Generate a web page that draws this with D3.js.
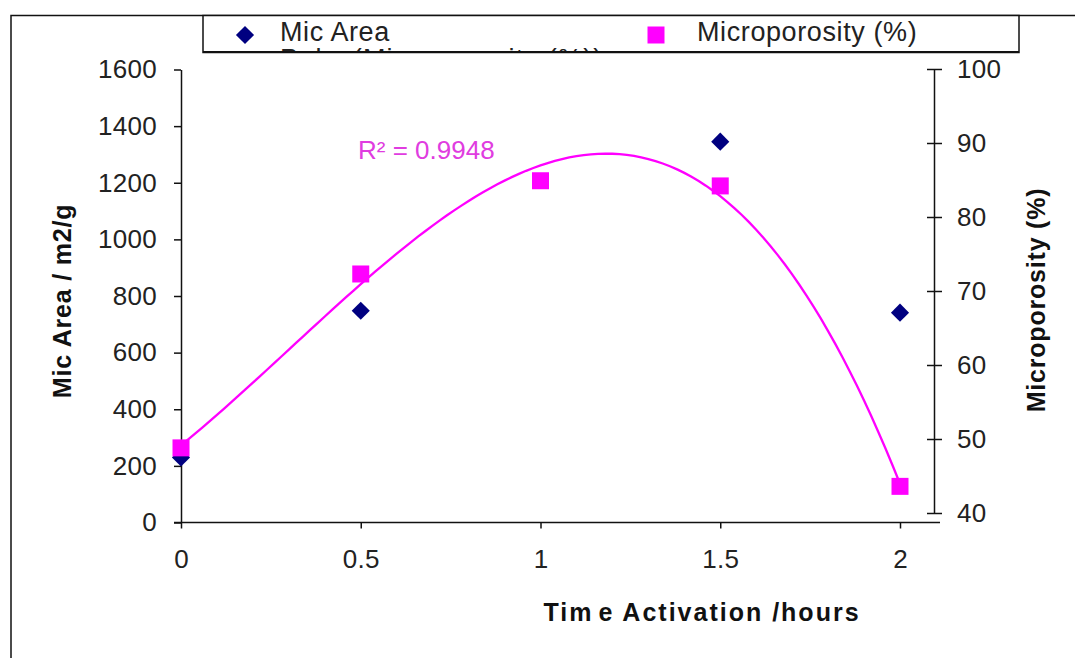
<!DOCTYPE html>
<html>
<head>
<meta charset="utf-8">
<script src="https://cdn.jsdelivr.net/npm/d3@7"></script>
<style>
  html, body { margin: 0; padding: 0; background: #fff; }
  svg { display: block; font-family: "Liberation Sans", Arial, sans-serif; }
</style>
</head>
<body>
<svg id="chart" width="1075" height="658"></svg>
<script>
// Activation time (hours)
const hours = [0, 0.5, 1, 1.5, 2];
// Micropore area, m2/g (no reading at 1 h)
const micArea = [230, 748, null, 1345, 741];
// Microporosity, %
const microporosity = [48.8, 72.3, 84.9, 84.2, 43.6];

const xTicks = [0, 0.5, 1, 1.5, 2];
const leftTicks = [0, 200, 400, 600, 800, 1000, 1200, 1400, 1600];
const rightTicks = [40, 50, 60, 70, 80, 90, 100];
const r2Label = "R\u00B2 = 0.9948";

const svg = d3.select("#chart");

const x = d3.scaleLinear().domain([0, 2]).range([181, 900]);
const yL = d3.scaleLinear().domain([0, 1600]).range([522.5, 69.5]);
const yR = d3.scaleLinear().domain([40, 100]).range([513, 69]);

// Outer frame
svg.append("rect")
  .attr("x", 11).attr("y", 15.5).attr("width", 1200).attr("height", 800)
  .attr("fill", "none").attr("stroke", "#111").attr("stroke-width", 1.5);

// Cubic least-squares trendline for microporosity
function polyFit(xs, ys, order) {
  const n = order + 1;
  const A = Array.from({length: n}, () => new Array(n + 1).fill(0));
  xs.forEach((xv, k) => {
    for (let i = 0; i < n; i++) {
      for (let j = 0; j < n; j++) A[i][j] += Math.pow(xv, i + j);
      A[i][n] += ys[k] * Math.pow(xv, i);
    }
  });
  for (let c = 0; c < n; c++) {
    let p = c;
    for (let r = c + 1; r < n; r++) if (Math.abs(A[r][c]) > Math.abs(A[p][c])) p = r;
    [A[c], A[p]] = [A[p], A[c]];
    for (let r = 0; r < n; r++) {
      if (r === c) continue;
      const f = A[r][c] / A[c][c];
      for (let k = c; k <= n; k++) A[r][k] -= f * A[c][k];
    }
  }
  return A.map((row, i) => row[n] / row[i]);
}
const coef = polyFit(hours, microporosity, 3);
const trend = t => coef.reduce((s, c, i) => s + c * Math.pow(t, i), 0);
const trendPts = d3.range(0, 2.0001, 0.02).map(t => [t, trend(t)]);

// Axes
const gL = svg.append("g").attr("transform", "translate(181,0)")
  .call(d3.axisLeft(yL).tickValues(leftTicks).tickFormat(d3.format("d"))
    .tickSize(7).tickSizeOuter(0).tickPadding(17));
const gB = svg.append("g").attr("transform", "translate(0,522.5)")
  .call(d3.axisBottom(x).tickValues(xTicks).tickFormat(d3.format("")).tickSize(6).tickSizeOuter(0).tickPadding(21));
gB.select(".domain").remove();
svg.append("line").attr("x1", 174).attr("x2", 940).attr("y1", 522.5).attr("y2", 522.5)
  .attr("stroke", "#111").attr("stroke-width", 1.5);
const gR = svg.append("g").attr("transform", "translate(934,0)")
  .call(d3.axisRight(yR).tickValues(rightTicks).tickFormat(d3.format("d"))
    .tickSize(8).tickSizeOuter(0).tickPadding(15));
gR.selectAll(".tick line").attr("x1", -7);

[gL, gB, gR].forEach(g => {
  g.selectAll(".domain").attr("stroke", "#111").attr("stroke-width", 1.5);
  g.selectAll(".tick line").attr("stroke", "#111").attr("stroke-width", 1.5);
  g.selectAll(".tick text").attr("font-size", 26).attr("fill", "#222")
    .attr("letter-spacing", 0.3)
    .attr("font-family", "'Liberation Sans', Arial, sans-serif");
});

// Axis titles
svg.append("text")
  .attr("transform", "translate(62,301) rotate(-90)")
  .attr("text-anchor", "middle").attr("dominant-baseline", "central")
  .attr("font-size", 25).attr("font-weight", "bold").attr("fill", "#111")
  .attr("letter-spacing", 0.8)
  .text("Mic Area / m2/g");
svg.append("text")
  .attr("transform", "translate(1036,300) rotate(-90)")
  .attr("text-anchor", "middle").attr("dominant-baseline", "central")
  .attr("font-size", 25).attr("font-weight", "bold").attr("fill", "#111")
  .attr("letter-spacing", 0.8)
  .text("Microporosity (%)");
const xt = svg.append("text")
  .attr("x", 702).attr("y", 612)
  .attr("text-anchor", "middle").attr("dominant-baseline", "central")
  .attr("font-size", 25).attr("font-weight", "bold").attr("fill", "#111")
  .attr("letter-spacing", 2);
xt.append("tspan").text("Tim");
xt.append("tspan").attr("dx", 5).text("e Activation /hours");

// Trendline
svg.append("path")
  .datum(trendPts)
  .attr("fill", "none").attr("stroke", "#ff00ff").attr("stroke-width", 2.3)
  .attr("d", d3.line().x(d => x(d[0])).y(d => yR(d[1])));

// Mic Area markers (diamonds)
const diamond = d3.symbol().type(d3.symbolSquare).size(165);
svg.append("g").selectAll("path")
  .data(hours.map((h, i) => [h, micArea[i]]).filter(d => d[1] != null))
  .join("path")
  .attr("d", diamond)
  .attr("transform", d => `translate(${x(d[0])},${yL(d[1])}) rotate(45)`)
  .attr("fill", "#000080");

// Microporosity markers (squares)
const square = d3.symbol().type(d3.symbolSquare).size(289);
svg.append("g").selectAll("path")
  .data(hours.map((h, i) => [h, microporosity[i]]))
  .join("path")
  .attr("d", square)
  .attr("transform", d => `translate(${x(d[0])},${yR(d[1])})`)
  .attr("fill", "#ff00ff");

// R² annotation
svg.append("text")
  .attr("x", 358).attr("y", 159)
  .attr("font-size", 26).attr("fill", "#e03ce0")
  .text(r2Label);

// Legend
const lg = svg.append("g");
lg.append("rect").attr("x", 203).attr("y", 15.5).attr("width", 816).attr("height", 37)
  .attr("fill", "#fff").attr("stroke", "#111").attr("stroke-width", 1.5);
lg.append("line").attr("x1", 203).attr("x2", 1019).attr("y1", 52).attr("y2", 52)
  .attr("stroke", "#111").attr("stroke-width", 2.2);
svg.append("clipPath").attr("id", "legendClip")
  .append("rect").attr("x", 203).attr("y", 16).attr("width", 816).attr("height", 35);
const lgi = lg.append("g").attr("clip-path", "url(#legendClip)");
lgi.append("path").attr("d", diamond)
  .attr("transform", "translate(245,35) rotate(45)").attr("fill", "#000080");
lgi.append("text").attr("x", 280).attr("y", 41)
  .attr("font-size", 27).attr("fill", "#222").attr("letter-spacing", 0.6)
  .text("Mic Area");
lgi.append("text").attr("x", 280).attr("y", 68)
  .attr("font-size", 27).attr("fill", "#222").attr("letter-spacing", 1.2)
  .text("Poly. (Microporosity (%))");
lgi.append("path").attr("d", square)
  .attr("transform", "translate(656,35)").attr("fill", "#ff00ff");
lgi.append("text").attr("x", 697).attr("y", 41)
  .attr("font-size", 27).attr("fill", "#222").attr("letter-spacing", 0.6)
  .text("Microporosity (%)");
</script>
</body>
</html>
